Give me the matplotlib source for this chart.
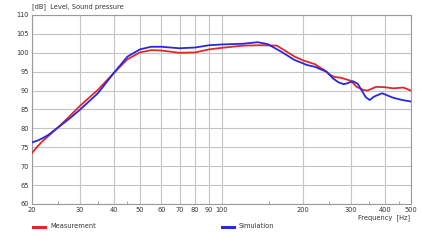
import matplotlib
matplotlib.use("Agg")
import matplotlib.pyplot as plt
from matplotlib.lines import Line2D
from matplotlib.ticker import FixedLocator, NullFormatter

# values
meas_f = [20, 21, 22, 23, 25, 27.5, 30, 35, 40, 45, 50, 55, 60, 70, 80, 90, 100,
          120, 140, 160, 166, 186, 200, 206, 221, 231, 240, 250, 261, 276, 300,
          315, 333, 345, 372, 400, 430, 469, 500]
meas_db = [73.5, 75.3, 76.8, 78.0, 80.3, 83.2, 85.9, 90.2, 94.6, 98.3, 100.1, 100.7,
           100.6, 100.0, 100.1, 100.9, 101.3, 101.9, 102.0, 101.9, 101.2, 99.0, 98.0,
           97.7, 97.0, 96.1, 95.4, 94.3, 93.6, 93.4, 92.6, 91.0, 90.2, 90.0, 91.0,
           90.9, 90.6, 90.8, 90.0]

sim_f = [20, 21, 22, 23, 25, 27.5, 30, 35, 40, 45, 50, 55, 60, 70, 80, 90, 100,
         120, 136, 148, 166, 186, 200, 206, 221, 231, 244, 258, 270, 282, 290,
         305, 318, 328, 340, 352, 365, 391, 430, 465, 500]
sim_db = [76.3, 76.8, 77.5, 78.3, 80.3, 82.6, 84.9, 89.3, 94.6, 99.0, 100.9, 101.6,
          101.6, 101.2, 101.4, 102.0, 102.2, 102.4, 102.8, 102.3, 100.3, 98.1, 97.2,
          96.8, 96.3, 95.7, 95.0, 93.2, 92.2, 91.7, 91.9, 92.5, 91.8, 90.2, 88.3,
          87.5, 88.4, 89.3, 88.1, 87.5, 87.1]

xticks = [20, 30, 40, 50, 60, 70, 80, 90, 100, 200, 300, 400, 500]
xminor = [25, 35, 45, 150, 250, 350, 450]
yticks = [60, 65, 70, 75, 80, 85, 90, 95, 100, 105, 110]

red = "#e02828"
blue = "#2828e0"
txt = "#333333"

fig = plt.figure(figsize=(4.22, 2.42), dpi=100)
ax = fig.add_axes([32 / 422, 1 - 204 / 242, 379 / 422, 189 / 242])

ax.plot(meas_f, meas_db, color=red, lw=1.3, zorder=3)
ax.plot(sim_f, sim_db, color=blue, lw=1.3, zorder=4)

ax.set_xscale("log")
ax.set_xlim(20, 500)
ax.set_ylim(60, 110)
ax.xaxis.set_major_locator(FixedLocator(xticks))
ax.xaxis.set_minor_locator(FixedLocator(xminor))
ax.xaxis.set_minor_formatter(NullFormatter())
ax.set_xticklabels([str(v) for v in xticks])
ax.set_yticks(yticks)
ax.set_yticklabels([str(v) for v in yticks])

ax.grid(True, which="major", color="#c4c4c4", lw=0.8)
ax.tick_params(which="major", length=0, labelsize=4.8, labelcolor=txt, pad=2.5)
ax.tick_params(which="minor", axis="x", direction="in", length=2, color="#999999")
for s in ax.spines.values():
    s.set_color("#9a9a9a")
    s.set_linewidth(0.8)

fig.text(32 / 422, 1 - 6.5 / 242, "[dB]  Level, Sound pressure", fontsize=4.8,
         color=txt, va="center", ha="left")
fig.text(410 / 422, 1 - 217.5 / 242, "Frequency  [Hz]", fontsize=4.8,
         color=txt, va="center", ha="right")

y_leg = 1 - 227 / 242
fig.add_artist(Line2D([33 / 422, 45 / 422], [y_leg, y_leg], color=red, lw=2.2))
fig.text(50 / 422, y_leg + 0.004, "Measurement", fontsize=4.8, color=txt, va="center")
fig.add_artist(Line2D([222 / 422, 234 / 422], [y_leg, y_leg], color=blue, lw=2.2))
fig.text(239 / 422, y_leg + 0.004, "Simulation", fontsize=4.8, color=txt, va="center")

fig.savefig("out.png", dpi=100)
